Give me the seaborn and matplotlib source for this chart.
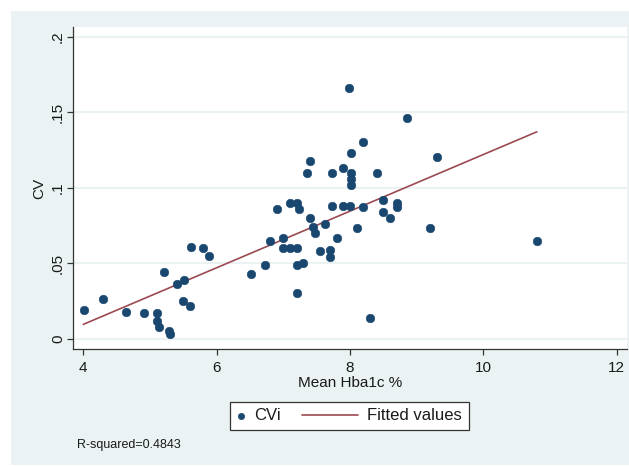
import numpy as np
import pandas as pd
import seaborn as sns
import matplotlib
matplotlib.use("Agg")
import matplotlib.pyplot as plt
from matplotlib.patches import Rectangle
from matplotlib.legend_handler import HandlerLine2D

# ---- data ----
hba1c = [4.01, 4.30, 4.64, 4.91, 5.10, 5.10, 5.13, 5.29, 5.30, 5.21,
         5.40, 5.51, 5.50, 5.60, 5.61, 5.80, 5.88, 6.51, 6.72, 6.80,
         6.90, 7.00, 7.00, 7.10, 7.20, 7.10, 7.20, 7.23, 7.20, 7.30,
         7.20, 7.40, 7.45, 7.47, 7.55, 7.63, 7.70, 7.70, 7.80, 7.73,
         7.90, 8.00, 8.10, 8.20, 8.50, 8.50, 8.60, 8.70, 8.71, 9.20,
         10.80, 8.30, 7.98, 8.85, 8.20, 8.02, 7.40, 7.36, 7.73, 7.90,
         8.02, 8.01, 8.01, 8.40, 9.30]
cvi = [0.019, 0.026, 0.018, 0.017, 0.017, 0.012, 0.008, 0.005, 0.003, 0.044,
       0.036, 0.039, 0.025, 0.022, 0.061, 0.060, 0.055, 0.043, 0.049, 0.065,
       0.086, 0.067, 0.060, 0.060, 0.060, 0.090, 0.090, 0.086, 0.049, 0.050,
       0.030, 0.080, 0.074, 0.070, 0.058, 0.076, 0.059, 0.054, 0.067, 0.088,
       0.088, 0.088, 0.073, 0.087, 0.092, 0.084, 0.080, 0.090, 0.087, 0.073,
       0.065, 0.014, 0.166, 0.146, 0.130, 0.123, 0.118, 0.110, 0.110, 0.113,
       0.110, 0.106, 0.102, 0.110, 0.120]
fit_x = [4.0, 10.8]
fit_y = [0.0095, 0.137]
x_ticks = [4, 6, 8, 10, 12]
x_tick_labels = ["4", "6", "8", "10", "12"]
y_ticks = [0, 0.05, 0.1, 0.15, 0.2]
y_tick_labels = ["0", ".05", ".1", ".15", ".2"]
x_title = "Mean Hba1c %"
y_title = "CV"
series_labels = ["CVi", "Fitted values"]
note_text = "R-squared=0.4843"

# ---- style ----
sns.set_style("white")
plt.rcParams["font.family"] = ["Liberation Sans", "DejaVu Sans"]

NAVY = "#1a476f"
MAROON = "#9c4a52"
BG = "#eaf2f3"
AXC = "#333333"
TXT = "#1a1a1a"

W, H = 629, 466
fig = plt.figure(figsize=(W / 100, H / 100), dpi=100)
fig.patch.set_facecolor("white")
fig.patches.append(Rectangle((11 / W, 1 / H), (W - 11) / W, (H - 12) / H,
                             transform=fig.transFigure, facecolor=BG,
                             edgecolor="none", zorder=-10))

ax = fig.add_axes([73 / W, 1 - 349 / H, (627 - 73) / W, (349 - 27) / H])
ax.set_zorder(1)
ax.set_facecolor("white")

df_pts = pd.DataFrame({"hba1c": hba1c, "cvi": cvi})
df_fit = pd.DataFrame({"x": fit_x, "y": fit_y})

sns.scatterplot(data=df_pts, x="hba1c", y="cvi", ax=ax, color=NAVY, s=38,
                edgecolor=NAVY, linewidth=0.4, label=series_labels[0], zorder=3)
sns.lineplot(data=df_fit, x="x", y="y", ax=ax, color=MAROON, lw=1.2,
             label=series_labels[1], zorder=2)

ax.set_xlim(3.846, 12.152)
ax.set_ylim(-0.0068, 0.2064)
ax.set_xticks(x_ticks)
ax.set_xticklabels(x_tick_labels)
ax.set_yticks(y_ticks)
ax.set_yticklabels(y_tick_labels)
ax.grid(axis="y", color=BG, lw=1.5)
ax.grid(axis="x", visible=False)
ax.set_axisbelow(True)

for s in ["top", "right"]:
    ax.spines[s].set_visible(False)
for s in ["left", "bottom"]:
    ax.spines[s].set_visible(True)
    ax.spines[s].set_color(AXC)
    ax.spines[s].set_linewidth(0.9)

ax.tick_params(axis="both", which="major", bottom=True, left=True,
               direction="out", length=4.3, width=0.9, color=AXC,
               labelsize=11, labelcolor=TXT)
ax.tick_params(axis="x", pad=4)
ax.tick_params(axis="y", pad=1.5, labelrotation=90)
for lab in ax.get_yticklabels():
    lab.set_va("center")

ax.set_xlabel(x_title, fontsize=11, color=TXT)
ax.set_ylabel(y_title, fontsize=11, color=TXT)
ax.xaxis.set_label_coords(0.5, -0.084)
ax.yaxis.set_label_coords(-0.049, 0.5)

# legend
class LongLine(HandlerLine2D):
    def __init__(self, extra, **kw):
        super().__init__(**kw)
        self.extra = extra

    def create_artists(self, legend, orig_handle, xdescent, ydescent,
                       width, height, fontsize, trans):
        arts = super().create_artists(legend, orig_handle, xdescent, ydescent,
                                      width, height, fontsize, trans)
        for a in arts:
            xd = np.asarray(a.get_xdata(), float)
            if xd.size:
                a.set_xdata(np.linspace(xd[0] - self.extra, xd[-1], xd.size))
        return arts

handles, labels = ax.get_legend_handles_labels()
if ax.get_legend() is not None:
    ax.get_legend().remove()
leg = fig.legend(handles, labels, loc="center",
                 bbox_to_anchor=(349.5 / W, 1 - 416 / H), ncol=2,
                 frameon=True, fancybox=False, edgecolor=AXC, framealpha=1,
                 fontsize=12, borderpad=0.4, handlelength=0.5,
                 handletextpad=0.54, columnspacing=4.13, markerscale=0.75,
                 handler_map={handles[1]: LongLine(extra=34.3)})
leg.get_frame().set_linewidth(0.9)
for t in leg.get_texts():
    t.set_color(TXT)

fig.text(77 / W, 1 - 445 / H, note_text, fontsize=9, ha="left",
         va="center", color=TXT)

fig.savefig("out.png", dpi=100, facecolor="white")
